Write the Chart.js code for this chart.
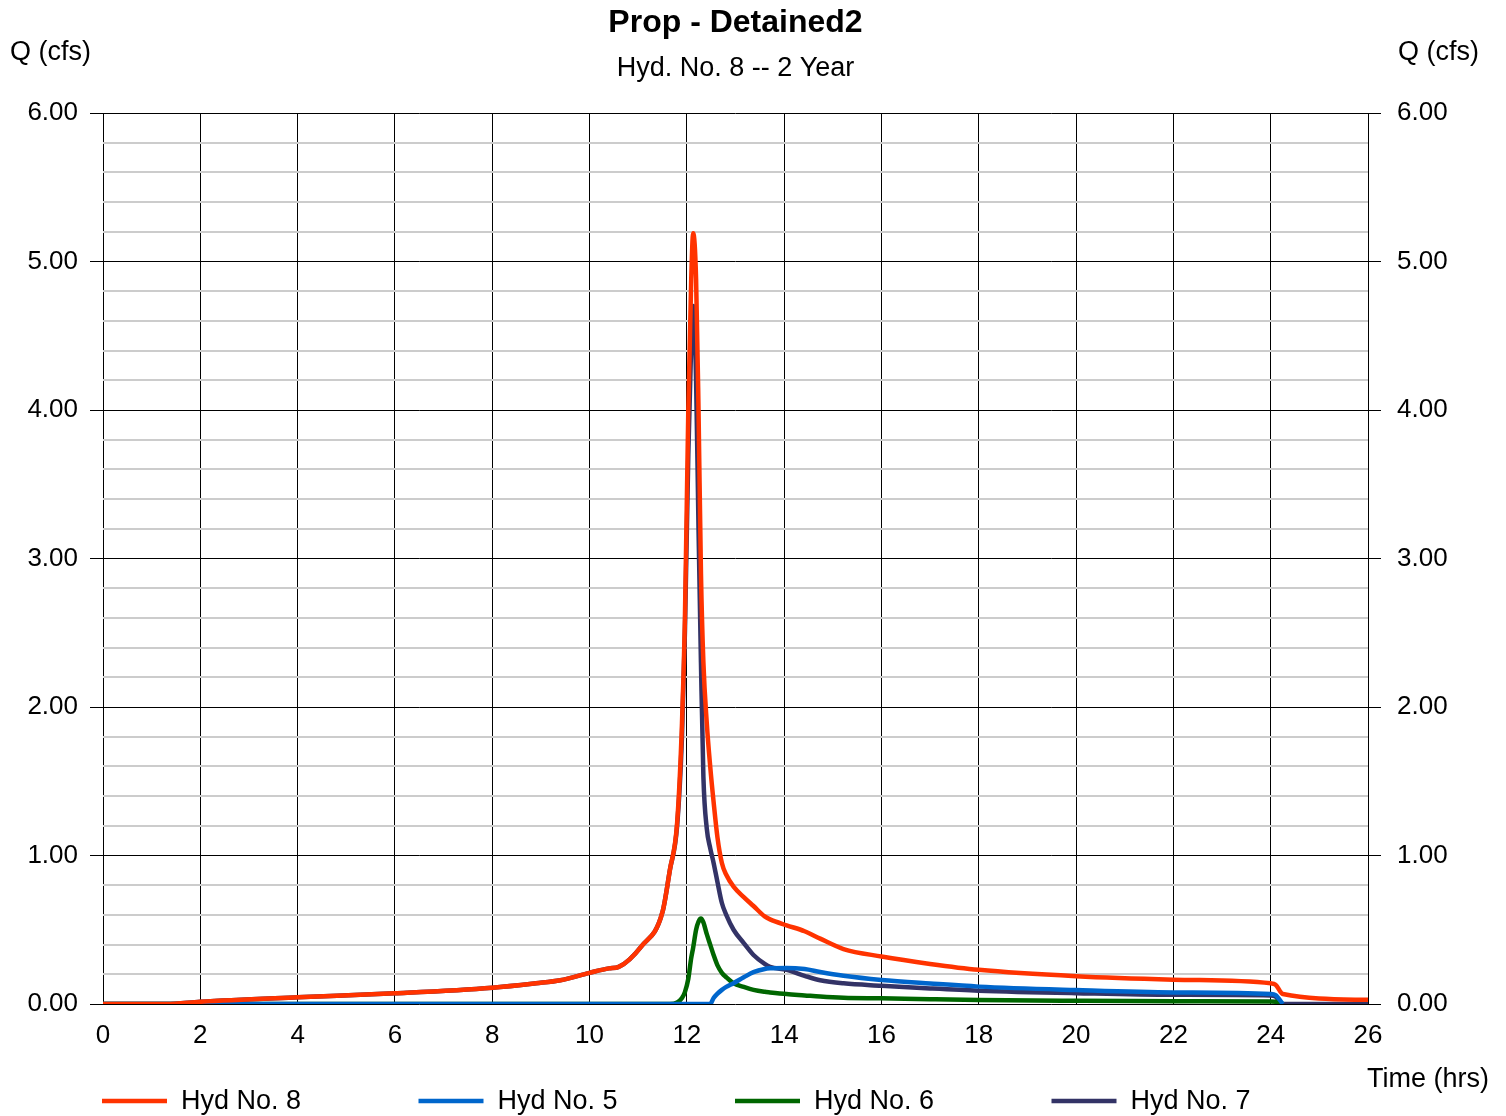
<!DOCTYPE html>
<html>
  <head>
    <meta charset="utf-8">
    <style type="text/css">
      body { margin: 0; background: #ffffff; }
      .chart-container { width: 1506px; height: 1116px; }
    </style>
  </head>
  <body>
    <script src="https://cdn.jsdelivr.net/npm/chart.js"></script>

    <div class="chart-container">
      <canvas id="myChart" width="1506" height="1116"></canvas>
    </div>

    <script>
      /* datas */
      const hours = [0, 1.3, 2, 4, 6, 8, 8.9, 9.4, 10, 10.4, 10.6, 11.07, 11.5, 11.65, 11.8, 11.9, 11.96, 12.03, 12.09, 12.13,
        12.19, 12.24, 12.29, 12.34, 12.41, 12.48, 12.55, 12.63, 12.72, 12.81, 12.96, 13.17, 13.37, 13.6, 13.71, 14.05,
        14.42, 14.74, 15.22, 16, 17, 18, 20, 22, 24, 24.1, 24.25, 26];
      const hyd8 = [0, 0, 0.015, 0.045, 0.072, 0.11, 0.14, 0.16, 0.21, 0.24, 0.25, 0.39, 0.62, 0.9, 1.22, 1.89, 2.59, 4.0, 4.88, 5.19,
        4.88, 4.0, 2.9, 2.3, 1.89, 1.6, 1.36, 1.12, 0.95, 0.87, 0.79, 0.72, 0.66, 0.59, 0.57, 0.53,
        0.49, 0.44, 0.37, 0.32, 0.27, 0.23, 0.187, 0.164, 0.139, 0.13, 0.067, 0.028];
      const hyd5 = [0, 0, 0, 0, 0, 0, 0, 0, 0, 0, 0, 0, 0, 0, 0, 0, 0, 0, 0, 0,
        0, 0, 0, 0, 0, 0, 0.04, 0.07, 0.095, 0.115, 0.14, 0.18, 0.215, 0.236, 0.24, 0.243,
        0.235, 0.215, 0.19, 0.162, 0.138, 0.117, 0.094, 0.078, 0.067, 0.06, 0, null];
      const hyd6 = [0, 0, 0, 0, 0, 0, 0, 0, 0, 0, 0, 0, 0, 0, 0.01, 0.04, 0.08, 0.17, 0.31, 0.38,
        0.5, 0.555, 0.575, 0.55, 0.47, 0.4, 0.33, 0.26, 0.21, 0.18, 0.14, 0.115, 0.095, 0.082, 0.078, 0.067,
        0.058, 0.05, 0.042, 0.038, 0.032, 0.027, 0.022, 0.019, 0.017, 0.015, 0, null];
      const hyd7 = [0, 0, 0.015, 0.045, 0.072, 0.11, 0.14, 0.16, 0.21, 0.24, 0.25, 0.39, 0.62, 0.9, 1.2, 1.8, 2.5, 3.7, 4.45, 4.7,
        4.2, 3.2, 2.3, 1.53, 1.18, 1.05, 0.95, 0.82, 0.68, 0.6, 0.5, 0.41, 0.33, 0.27, 0.25, 0.23,
        0.19, 0.16, 0.139, 0.123, 0.105, 0.09, 0.073, 0.062, 0.058, 0.05, 0, 0];
      const seriesNames = ['Hyd No. 8', 'Hyd No. 5', 'Hyd No. 6', 'Hyd No. 7'];
      const seriesColors = ['#ff3300', '#0066cc', '#006600', '#333366'];

      const FONT = "'Liberation Sans', Arial, sans-serif";

      function toPoints(values) {
        const pts = [];
        values.forEach((v, i) => { if (v !== null) pts.push({x: hours[i], y: v}); });
        return pts;
      }

      const isMajor = (v) => Math.abs(v - Math.round(v)) < 1e-6;
      const qLabel = (v) => isMajor(v) ? Number(v).toFixed(2) : '';

      // texts drawn outside of chart area: titles, axis names, legend
      const textPlugin = {
        id: 'texts',
        afterDraw(chart) {
          const ctx = chart.ctx;
          const mid = (chart.chartArea.left + chart.chartArea.right) / 2;
          ctx.save();
          ctx.fillStyle = '#000';
          ctx.textBaseline = 'middle';
          ctx.textAlign = 'center';
          ctx.font = 'bold 32px ' + FONT;
          ctx.fillText('Prop - Detained2', mid, 23);
          ctx.font = '27px ' + FONT;
          ctx.fillText('Hyd. No. 8 -- 2 Year', mid, 69);
          ctx.textAlign = 'left';
          ctx.fillText('Q (cfs)', 10, 53);
          ctx.fillText('Q (cfs)', 1398, 53);
          ctx.textAlign = 'right';
          ctx.fillText('Time (hrs)', 1489, 1080);
          // legend
          ctx.textAlign = 'left';
          seriesNames.forEach((name, i) => {
            const x = 102 + i * 316.5;
            ctx.strokeStyle = seriesColors[i];
            ctx.lineWidth = 4.5;
            ctx.beginPath();
            ctx.moveTo(x, 1101);
            ctx.lineTo(x + 65, 1101);
            ctx.stroke();
            ctx.fillText(name, x + 79, 1102);
          });
          ctx.restore();
        }
      };

      const myChart = new Chart('myChart', {
        type: 'line',
        data: {
          datasets: seriesNames.map((name, i) => ({
            label: name,
            data: toPoints([hyd8, hyd5, hyd6, hyd7][i]),
            borderColor: seriesColors[i],
            borderWidth: 4.5,
            pointRadius: 0,
            fill: false,
            cubicInterpolationMode: 'monotone'
          }))
        },
        options: {
          responsive: false,
          animation: false,
          layout: { padding: { top: 113, left: 0, right: 0, bottom: 0 } },
          plugins: {
            legend: { display: false },
            title: { display: false },
            tooltip: { enabled: false }
          },
          scales: {
            x: {
              type: 'linear',
              min: 0,
              max: 26,
              border: { display: false },
              grid: { color: '#000', lineWidth: 1, drawTicks: false },
              ticks: {
                stepSize: 2,
                padding: 16,
                color: '#000',
                font: { family: FONT, size: 26 }
              },
              afterFit: (s) => { s.height = 112; }
            },
            y: {
              min: 0,
              max: 6,
              border: { display: false },
              grid: {
                color: (c) => isMajor(c.tick.value) ? '#000' : '#cccccc',
                lineWidth: (c) => isMajor(c.tick.value) ? 1 : 2,
                tickColor: (c) => isMajor(c.tick.value) ? '#000' : 'rgba(0,0,0,0)',
                tickLength: 13
              },
              ticks: {
                stepSize: 0.2,
                autoSkip: false,
                padding: 12,
                color: '#000',
                font: { family: FONT, size: 26 },
                callback: qLabel
              },
              afterFit: (s) => { s.width = 103; }
            },
            y2: {
              position: 'right',
              min: 0,
              max: 6,
              border: { display: false },
              grid: {
                drawOnChartArea: false,
                tickColor: (c) => isMajor(c.tick.value) ? '#000' : 'rgba(0,0,0,0)',
                tickLength: 13
              },
              ticks: {
                stepSize: 0.2,
                autoSkip: false,
                padding: 16,
                color: '#000',
                font: { family: FONT, size: 26 },
                callback: qLabel
              },
              afterFit: (s) => { s.width = 138; }
            }
          }
        },
        plugins: [textPlugin]
      });
    </script>
  </body>
</html>
